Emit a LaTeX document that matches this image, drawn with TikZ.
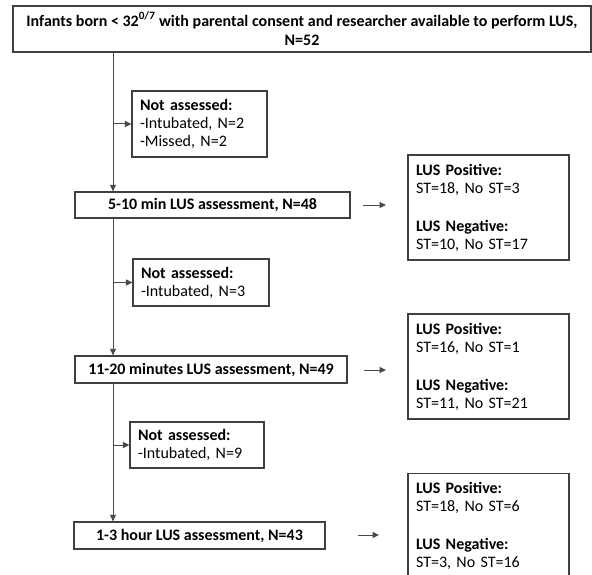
\documentclass[tikz,border=0pt]{standalone}
\usepackage{fontspec}
\setmainfont{Carlito}
\usetikzlibrary{arrows.meta}
\definecolor{boxline}{HTML}{404040}
\definecolor{conline}{HTML}{4a4a4a}
\begin{document}
\begin{tikzpicture}[x=1pt,y=-1pt,
  every node/.style={font=\fontsize{16}{18}\selectfont},
  stagebox/.style={draw=boxline,line width=1.3pt,inner sep=0pt,font=\fontsize{16}{19.5}\selectfont\bfseries,align=center},
  sidebox/.style={draw=boxline,line width=1.1pt,inner xsep=8pt,inner ysep=0pt,align=left,text width=#1},
  conn/.style={draw=conline,line width=1pt,-{Triangle[length=6.5pt,width=6pt]}}
]
\clip (0,0) rectangle (592,575);
\fill[white] (0,0) rectangle (592,575);

% top box
\node[stagebox,minimum width=578pt,minimum height=46pt] (top) at (302,29)
  {Infants born < 32\textsuperscript{0/7} with parental consent and researcher available to perform LUS,\\N=52};

% stage boxes
\node[stagebox,minimum width=275pt,minimum height=26pt] (b1) at (212.5,205) {5-10 min LUS assessment, N=48};
\node[stagebox,minimum width=272pt,minimum height=27pt] (b2) at (211,369.5) {11-20 minutes LUS assessment, N=49};
\node[stagebox,minimum width=251pt,minimum height=27pt] (b3) at (199.5,535.5) {1-3 hour LUS assessment, N=43};

% not assessed boxes
\node[sidebox=119pt,minimum height=66pt] (na1) at (199.5,124)
  {\textbf{Not assessed:}\\-Intubated, N=2\\-Missed, N=2};
\node[sidebox=120pt,minimum height=47pt] (na2) at (201,282.5)
  {\textbf{Not assessed:}\\-Intubated, N=3};
\node[sidebox=118pt,minimum height=46pt] (na3) at (197,445)
  {\textbf{Not assessed:}\\-Intubated, N=9};

% result boxes
\node[sidebox=145pt,minimum height=105pt] (r1) at (488.5,207.5)
  {\textbf{LUS Positive:}\\ST=18, No ST=3\\[20pt]\textbf{LUS Negative:}\\ST=10, No ST=17};
\node[sidebox=145pt,minimum height=105pt] (r2) at (488.5,366.5)
  {\textbf{LUS Positive:}\\ST=16, No ST=1\\[20pt]\textbf{LUS Negative:}\\ST=11, No ST=21};
\node[sidebox=145pt,minimum height=105pt,anchor=north] (r3) at (488.5,473)
  {\textbf{LUS Positive:}\\ST=18, No ST=6\\[20pt]\textbf{LUS Negative:}\\ST=3, No ST=16};

% main vertical flow
\coordinate (t0) at (113,52);
\coordinate (j1) at (113,124);
\coordinate (s1) at (113,218);
\coordinate (j2) at (113,282.5);
\coordinate (s2) at (113,383);
\coordinate (j3) at (113,445);
\draw[conn] (t0) -- (t0 |- b1.north);
\draw[conn] (s1) -- (s1 |- b2.north);
\draw[conn] (s2) -- (s2 |- b3.north);
\draw[conn] (j1) -- (na1.west);
\draw[conn] (j2) -- (na2.west);
\draw[conn] (j3) -- (na3.west);

% right arrows
\coordinate (a1s) at (363,205);
\coordinate (a1e) at (386,205);
\coordinate (a2s) at (364,370);
\coordinate (a2e) at (386,370);
\coordinate (a3s) at (358,535);
\coordinate (a3e) at (379,535);
\draw[conn] (a1s) -- (a1e);
\draw[conn] (a2s) -- (a2e);
\draw[conn] (a3s) -- (a3e);
\end{tikzpicture}
\end{document}
